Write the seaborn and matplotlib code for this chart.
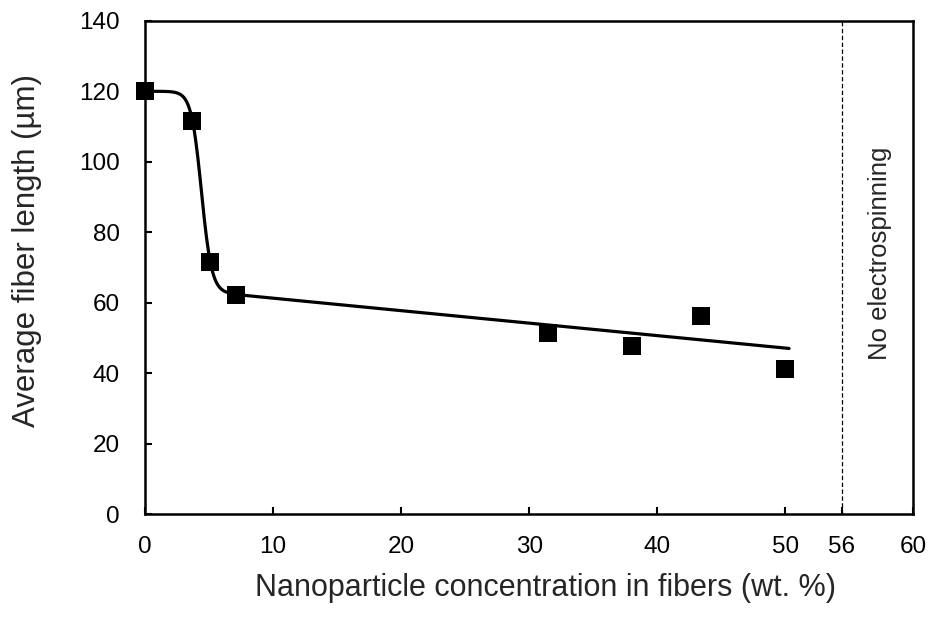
import numpy as np
import pandas as pd
import matplotlib
matplotlib.use("Agg")
import matplotlib.pyplot as plt
import seaborn as sns

# Data
conc = [0.0, 3.65, 5.1, 7.1, 31.5, 38.0, 43.4, 50.0]
length = [120.0, 111.6, 71.6, 62.3, 51.3, 47.7, 56.2, 41.1]

# fitted trend: Boltzmann drop onto a linear tail (parameters)
fit_top = 120.0
fit_x0 = 4.4
fit_dx = 0.4
lin_at7 = 62.3
lin_slope = -0.354
fit_xmax = 50.3

no_spin_x = 54.4  # position of dashed boundary as drawn
xtick_pos = [0, 10, 20, 30, 40, 50, no_spin_x, 60]
xtick_lab = ["0", "10", "20", "30", "40", "50", "56", "60"]
yticks = [0, 20, 40, 60, 80, 100, 120, 140]

sns.set_theme(style="ticks")
plt.rcParams['font.family'] = ['Liberation Sans', 'DejaVu Sans']

fig = plt.figure(figsize=(9.3, 6.3), dpi=100)
ax = fig.add_axes([0.156, 0.184, 0.826, 0.783])

xf = np.linspace(0, fit_xmax, 600)
lin = lin_at7 + lin_slope * (xf - 7.1)
yf = lin + (fit_top - lin) / (1 + np.exp((xf - fit_x0) / fit_dx))
fit_df = pd.DataFrame({"x": xf, "y": yf})
pts_df = pd.DataFrame({"x": conc, "y": length})

sns.lineplot(data=fit_df, x="x", y="y", ax=ax, color="black", lw=2.3, sort=False, zorder=2)
sns.scatterplot(data=pts_df, x="x", y="y", ax=ax, marker="s", s=150, color="black",
                edgecolor="black", linewidth=0, zorder=3, clip_on=False)

ax.axvline(no_spin_x, color="black", lw=0.9, linestyle=(0, (3.5, 2)), zorder=1)
ax.text(57.4, 74, "No electrospinning", rotation=90, ha="center", va="center", fontsize=18.5)

ax.set_xlim(0, 60)
ax.set_ylim(0, 140)
ax.set_xticks(xtick_pos)
ax.set_xticklabels(xtick_lab)
ax.set_yticks(yticks)
ax.tick_params(direction="in", length=5, width=1.5, labelsize=17.5, pad=16, colors="black")
ax.tick_params(axis="y", pad=18)
for s in ax.spines.values():
    s.set_linewidth(1.8)
    s.set_color("black")
    s.set_visible(True)

ax.set_xlabel("Nanoparticle concentration in fibers (wt. %)", fontsize=22)
ax.set_ylabel("Average fiber length (µm)", fontsize=22.5)
ax.xaxis.set_label_coords(0.521, -0.119)
ax.yaxis.set_label_coords(-0.134, 0.535)

fig.savefig("out.png", dpi=100)
